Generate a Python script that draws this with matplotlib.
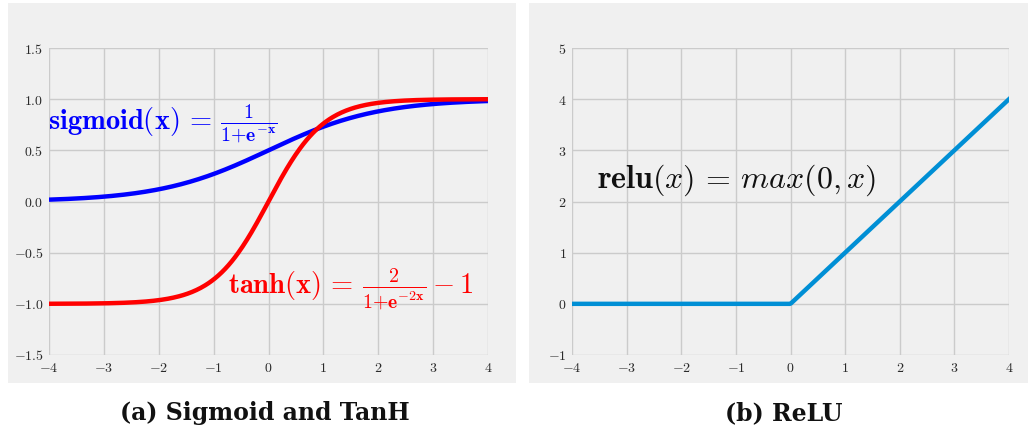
import numpy as np
import matplotlib
matplotlib.use("Agg")
import matplotlib.pyplot as plt
from matplotlib.patches import Rectangle
from matplotlib.ticker import FuncFormatter, FixedLocator

plt.rcParams["mathtext.fontset"] = "cm"

# Data
x_range = (-4, 4)
x_ticks = [-4, -3, -2, -1, 0, 1, 2, 3, 4]
left_y_ticks = [-1.5, -1.0, -0.5, 0.0, 0.5, 1.0, 1.5]
right_y_ticks = [-1, 0, 1, 2, 3, 4, 5]
captions = ["(a) Sigmoid and TanH", "(b) ReLU"]

x = np.linspace(x_range[0], x_range[1], 400)
sigmoid = 1.0 / (1.0 + np.exp(-x))
tanh = 2.0 / (1.0 + np.exp(-2 * x)) - 1.0
relu = np.maximum(0, x)

W, H = 1028, 433
fig = plt.figure(figsize=(W / 100, H / 100), dpi=100, facecolor="white")

panel_bg = "#f0f0f0"
grid_c = "#cbcbcb"

# panel backgrounds
fig.patches.append(Rectangle((8 / W, 1 - 383 / H), 508 / W, 380 / H,
                             transform=fig.transFigure, facecolor=panel_bg,
                             edgecolor="none", zorder=-10))
fig.patches.append(Rectangle((529 / W, 1 - 383 / H), 499 / W, 380 / H,
                             transform=fig.transFigure, facecolor=panel_bg,
                             edgecolor="none", zorder=-10))


def style_axes(ax, yticks, yfmt):
    ax.set_facecolor(panel_bg)
    for s in ax.spines.values():
        s.set_visible(False)
    ax.set_xlim(*x_range)
    ax.set_ylim(yticks[0], yticks[-1])
    ax.xaxis.set_major_locator(FixedLocator(x_ticks))
    ax.yaxis.set_major_locator(FixedLocator(yticks))
    ax.xaxis.set_major_formatter(FuncFormatter(lambda v, p: "$%d$" % v))
    ax.yaxis.set_major_formatter(FuncFormatter(yfmt))
    ax.tick_params(length=0, labelsize=10, colors="#2a2a2a", pad=4)
    ax.grid(True, color=grid_c, linewidth=1.0)
    ax.set_axisbelow(True)


ax1 = fig.add_axes([49 / W, 78 / H, 439 / W, 307 / H])
style_axes(ax1, left_y_ticks, lambda v, p: "$%.1f$" % v)
ax1.plot(x, sigmoid, color="#0000ff", linewidth=3.2, solid_capstyle="butt")
ax1.plot(x, tanh, color="#ff0000", linewidth=3.2, solid_capstyle="butt")
ax1.text(-4.02, 0.76,
         r"$\mathbf{sigmoid}(\mathbf{x})\,=\,\frac{\mathbf{1}}{\mathbf{1{+}e^{-x}}}$",
         color="#0000ff", fontsize=20.5, va="center", ha="left")
ax1.text(-0.74, -0.86,
         r"$\mathbf{tanh}(\mathbf{x})\,=\,\frac{\mathbf{2}}{\mathbf{1{+}e^{-2x}}}-\mathbf{1}$",
         color="#ff0000", fontsize=20.5, va="center", ha="left")

ax2 = fig.add_axes([572 / W, 78 / H, 437 / W, 307 / H])
style_axes(ax2, right_y_ticks, lambda v, p: "$%d$" % v)
ax2.plot(x, relu, color="#008fd5", linewidth=3.2)
ax2.text(-3.54, 2.42, r"$\mathbf{relu}(x)\,=\,max(0, x)$",
         color="#111111", fontsize=23, va="center", ha="left")

for cx, label in zip([265, 784], captions):
    fig.text(cx / W, 1 - 413 / H, label, fontsize=17, fontweight="bold",
             family="DejaVu Serif", ha="center", va="center", color="#111111")

fig.savefig("out.png", dpi=100, facecolor="white")
